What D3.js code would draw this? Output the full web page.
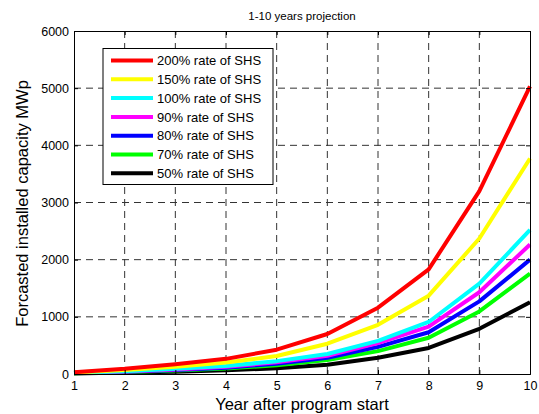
<!DOCTYPE html>
<html>
<head>
<meta charset="utf-8">
<script src="https://cdn.jsdelivr.net/npm/d3@7"></script>
<style>
  html, body { margin: 0; padding: 0; background: #fff; }
  svg { display: block; font-family: "Liberation Sans", Arial, Helvetica, sans-serif; }
</style>
</head>
<body>
<svg id="chart" width="539" height="414"></svg>
<script>
const years = [1, 2, 3, 4, 5, 6, 7, 8, 9, 10];
const xTicks = [1, 2, 3, 4, 5, 6, 7, 8, 9, 10];
const yTicks = [0, 1000, 2000, 3000, 4000, 5000, 6000];

const labels = ["200% rate of SHS", "150% rate of SHS", "100% rate of SHS", "90% rate of SHS", "80% rate of SHS", "70% rate of SHS", "50% rate of SHS"];
const colors = ["#ff0000", "#ffff00", "#00ffff", "#ff00ff", "#0000ff", "#00ff00", "#000000"];

const rate200 = [30, 90, 170, 265, 425, 700, 1160, 1830, 3200, 5030];
const rate150 = [25, 70, 125, 200, 315, 530, 860, 1370, 2370, 3770];
const rate100 = [20, 50, 90, 140, 225, 350, 580, 910, 1580, 2520];
const rate90  = [20, 45, 80, 125, 205, 320, 540, 830, 1430, 2265];
const rate80  = [18, 40, 70, 110, 180, 285, 475, 730, 1270, 2000];
const rate70  = [15, 35, 60, 95, 155, 245, 400, 635, 1095, 1755];
const rate50  = [10, 25, 40, 65, 100, 160, 285, 455, 790, 1255];

const seriesValues = [rate200, rate150, rate100, rate90, rate80, rate70, rate50];

const svg = d3.select("#chart");
const m = { left: 74, right: 530, top: 31, bottom: 374 };

const x = d3.scaleLinear().domain([1, 10]).range([m.left, m.right]);
const y = d3.scaleLinear().domain([0, 6000]).range([m.bottom, m.top]);

// grid
const grid = svg.append("g");
grid.selectAll(".vg").data(xTicks.slice(1, -1)).enter().append("line")
  .attr("x1", d => x(d)).attr("x2", d => x(d))
  .attr("y1", m.top).attr("y2", m.bottom)
  .attr("stroke", "#333").attr("stroke-width", 1).attr("stroke-dasharray", "7,5");
grid.selectAll(".hg").data(yTicks.slice(1, -1)).enter().append("line")
  .attr("x1", m.left).attr("x2", m.right)
  .attr("y1", d => y(d)).attr("y2", d => y(d))
  .attr("stroke", "#333").attr("stroke-width", 1).attr("stroke-dasharray", "7,5");

// lines
const line = d3.line().x((d, i) => x(years[i])).y(d => y(d));
seriesValues.slice().reverse().forEach((vals, k) => {
  const idx = seriesValues.length - 1 - k;
  svg.append("path").datum(vals)
    .attr("d", line)
    .attr("fill", "none")
    .attr("stroke", colors[idx])
    .attr("stroke-width", 4)
    .attr("stroke-linejoin", "round");
});

// axes
const xAxis = d3.axisBottom(x).tickValues(xTicks).tickSize(-4).tickPadding(7).tickFormat(d3.format("d"));
const yAxis = d3.axisLeft(y).tickValues(yTicks).tickSize(-4).tickPadding(5).tickFormat(d3.format("d"));
const xAxisTop = d3.axisTop(x).tickValues(xTicks).tickSize(-4).tickFormat("");
const yAxisRight = d3.axisRight(y).tickValues(yTicks).tickSize(-4).tickFormat("");

function styleAxis(g) {
  g.select(".domain").attr("stroke", "#000").attr("stroke-width", 1);
  g.selectAll(".tick line").attr("stroke", "#000");
  g.selectAll(".tick text").attr("fill", "#000").attr("font-size", 12.5)
    .attr("font-family", "Liberation Sans, Arial, sans-serif");
}

svg.append("g").attr("transform", `translate(0,${m.bottom})`).call(xAxis).call(styleAxis);
svg.append("g").attr("transform", `translate(${m.left},0)`).call(yAxis).call(styleAxis);
svg.append("g").attr("transform", `translate(0,${m.top})`).call(xAxisTop).call(styleAxis);
svg.append("g").attr("transform", `translate(${m.right},0)`).call(yAxisRight).call(styleAxis);

// title
svg.append("text").attr("x", (m.left + m.right) / 2).attr("y", 20)
  .attr("text-anchor", "middle").attr("font-size", 11.5).attr("fill", "#000")
  .text("1-10 years projection");

// axis labels
svg.append("text").attr("x", (m.left + m.right) / 2).attr("y", 410)
  .attr("text-anchor", "middle").attr("font-size", 16.5).attr("fill", "#000")
  .text("Year after program start");
svg.append("text")
  .attr("transform", `translate(28,${(m.top + m.bottom) / 2 + 1}) rotate(-90)`)
  .attr("text-anchor", "middle").attr("font-size", 16.5).attr("fill", "#000")
  .text("Forcasted installed capacity MWp");

// legend
const lg = svg.append("g");
const lx = 103, ly = 48.5, lw = 170, lh = 136;
lg.append("rect").attr("x", lx).attr("y", ly).attr("width", lw).attr("height", lh)
  .attr("fill", "#fff").attr("stroke", "#000").attr("stroke-width", 1);
labels.forEach((lab, i) => {
  const cy = 60.5 + i * 18.8;
  lg.append("line").attr("x1", 111).attr("x2", 153).attr("y1", cy).attr("y2", cy)
    .attr("stroke", colors[i]).attr("stroke-width", 4);
  lg.append("text").attr("x", 157).attr("y", cy + 4.7).attr("font-size", 13).attr("fill", "#000")
    .text(lab);
});
</script>
</body>
</html>
